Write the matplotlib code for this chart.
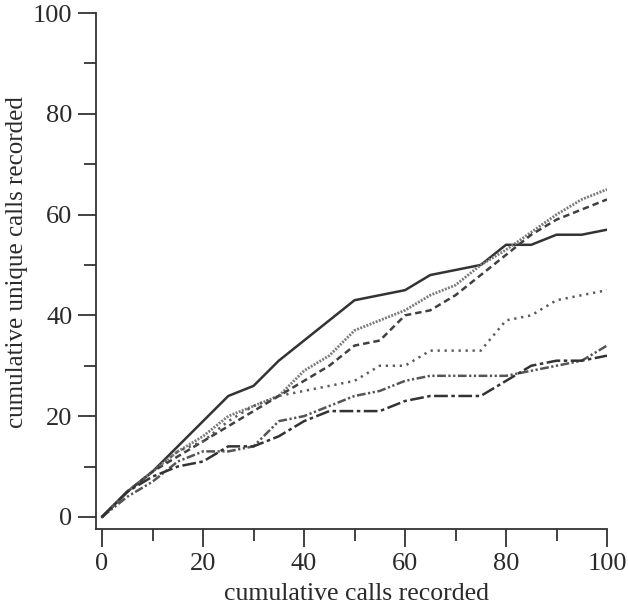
import matplotlib
matplotlib.use("Agg")
import matplotlib.pyplot as plt
from matplotlib.ticker import MultipleLocator

calls = [0, 5, 10, 15, 20, 25, 30, 35, 40, 45, 50, 55, 60, 65, 70, 75, 80, 85, 90, 95, 100]
series_a = [0, 5, 9, 14, 19, 24, 26, 31, 35, 39, 43, 44, 45, 48, 49, 50, 54, 54, 56, 56, 57]
series_b = [0, 5, 9, 13, 16, 20, 22, 24, 29, 32, 37, 39, 41, 44, 46, 50, 53, 56.5, 60, 63, 65]
series_c = [0, 5, 9, 12, 15, 18, 21, 24, 27, 30, 34, 35, 40, 41, 44, 48, 52, 56, 59, 61, 63]
series_d = [0, 5, 9, 13, 15, 19, 22, 24, 25, 26, 27, 30, 30, 33, 33, 33, 39, 40, 43, 44, 45]
series_e = [0, 4, 7, 11, 13, 13, 14, 19, 20, 22, 24, 25, 27, 28, 28, 28, 28, 29, 30, 31, 34]
series_f = [0, 5, 8, 10, 11, 14, 14, 16, 19, 21, 21, 21, 23, 24, 24, 24, 27, 30, 31, 31, 32]

xticks = [0, 20, 40, 60, 80, 100]
yticks = [0, 20, 40, 60, 80, 100]

plt.rcParams['font.family'] = ['Liberation Serif', 'DejaVu Serif']

fig = plt.figure(figsize=(6.28, 6.12), dpi=100)
ax = fig.add_axes([96/628, 1 - 529/612, 511/628, 516/612])

ax.plot(calls, series_a, color='#333333', lw=1.8, ls='-')
ax.plot(calls, series_b, color='#7a7a7a', lw=2.0, ls=(0, (0.7, 0.5)))
ax.plot(calls, series_c, color='#404040', lw=1.8, ls=(0, (2.6, 1.6)))
ax.plot(calls, series_d, color='#5a5a5a', lw=1.8, ls=(0, (0.9, 1.9)))
ax.plot(calls, series_e, color='#555555', lw=1.8, ls=(0, (3.5, 1.0, 0.9, 1.0, 0.9, 1.0)))
ax.plot(calls, series_f, color='#333333', lw=1.8, ls=(0, (5.5, 1.4, 1.4, 1.4)))

ax.set_xlim(-1.2, 100)
ax.set_ylim(-2.4, 100)
ax.set_xticks(xticks)
ax.set_yticks(yticks)
ax.xaxis.set_minor_locator(MultipleLocator(10))
ax.yaxis.set_minor_locator(MultipleLocator(10))

for s in ['top', 'right']:
    ax.spines[s].set_visible(False)
for s in ['left', 'bottom']:
    ax.spines[s].set_color('#333333')
    ax.spines[s].set_linewidth(1.3)

ax.tick_params(which='major', length=13, width=1.3, color='#333333', labelsize=19, labelcolor='#2a2a2a', pad=4)
ax.tick_params(which='minor', length=8.5, width=1.3, color='#333333')

ax.set_xlabel('cumulative calls recorded', fontsize=18.5, color='#2a2a2a')
ax.set_ylabel('cumulative unique calls recorded', fontsize=18, color='#2a2a2a')
ax.xaxis.set_label_coords(0.509, -0.105)
ax.yaxis.set_label_coords(-0.133, 0.517)

fig.savefig('out.png', dpi=100)
